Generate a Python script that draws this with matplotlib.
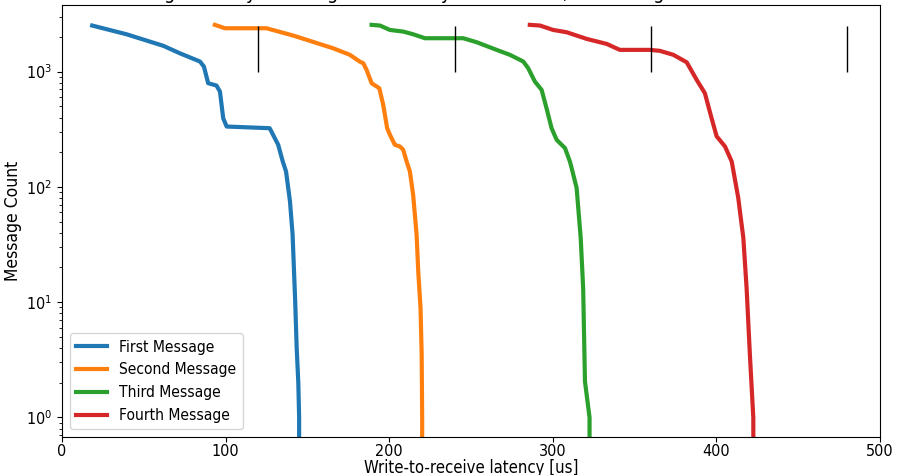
import numpy as np
import matplotlib
matplotlib.use('Agg')
import matplotlib.pyplot as plt

# --- данные: латентность [us] и число сообщений (с латентностью не меньше x) ---
first_x = [18.5, 39.5, 62, 72, 84.4, 86.8, 89.4, 94.5, 96.6, 98.6, 100.7, 127, 132.2,
           135, 137, 139.4, 141, 141.8, 142.6, 143.5, 144.5, 145, 145]
first_y = [2512, 2110, 1675, 1445, 1224, 1107, 794, 757, 672, 394, 334, 323, 232,
           166, 136, 75, 38.7, 19.7, 10.1, 4, 2, 1, 0]

second_x = [93.5, 99.6, 125, 141.4, 165.8, 176, 182, 184.2, 186.2, 189.3, 194, 196.4,
            198.8, 200.5, 203.5, 206.6, 208.6, 210.7, 212.7, 214.7, 216.8, 217.8,
            219.2, 219.9, 220.2, 220.2]
second_y = [2547, 2380, 2380, 2056, 1595, 1400, 1224, 1183, 1038, 794, 718, 515,
            323, 283, 232, 224, 210, 166, 136, 85, 38.4, 18.5, 8.9, 3.5, 1, 0]

third_x = [189.3, 194.4, 200.5, 208.6, 214.7, 221.9, 245.3, 253.5, 265.7, 273.8, 282,
           285, 289.1, 293.2, 296.2, 299.3, 302.4, 307.5, 310.5, 311.6, 314.6, 317.1,
           318.6, 319.7, 322.3, 322.5, 322.5]
third_y = [2547, 2512, 2300, 2227, 2110, 1950, 1950, 1800, 1545, 1400, 1224,
           1072, 820, 695, 482, 323, 256, 217, 166, 145, 98, 36,
           13.2, 2.05, 1.05, 1, 0]

fourth_x = [286, 292.2, 300.3, 308.5, 320.7, 333, 341, 359.4, 365.5, 373.7, 381.9,
            388, 393, 397.1, 400.2, 401.2, 405.3, 409.4, 413.4, 416.5, 418.5, 420.5,
            422.5, 422.6, 422.6]
fourth_y = [2547, 2512, 2300, 2197, 1925, 1740, 1545, 1545, 1515, 1400, 1205,
            848, 650, 394, 274, 264, 224, 166, 80, 36, 13.2, 3.5,
            1.05, 1, 0]

series = [
    (first_x, first_y, 'First Message'),
    (second_x, second_y, 'Second Message'),
    (third_x, third_y, 'Third Message'),
    (fourth_x, fourth_y, 'Fourth Message'),
]

marker_x = [120, 240, 360, 480]
marker_lo = 1000
marker_hi = 2512

# шрифт в оригинале выглядит сжатым по горизонтали
plt.rcParams['font.stretch'] = 'condensed'

fig = plt.figure(figsize=(8.97, 4.75), dpi=100)
ax = fig.add_axes([0.069, 0.08, 0.912, 0.909])

for xs, ys, name in series:
    ax.plot(xs, ys, linewidth=3, label=name)

ax.vlines(marker_x, marker_lo, marker_hi, colors='black', linewidth=1)

ax.set_yscale('log')
ax.set_xlim(0, 500)
ax.set_xticks([0, 100, 200, 300, 400, 500])
ax.tick_params(labelsize=11.5)
ax.tick_params(axis='x', pad=1.5)
ax.set_xlabel('Write-to-receive latency [us]', fontsize=12)
# подпись оси X ставим вручную, иначе не помещается снизу
ax.xaxis.set_label_coords(0.5, -0.05)
ax.set_ylabel('Message Count', fontsize=12.5, labelpad=3)
ax.set_title('Message latency in a long run of many small writes, in the original order of arrival',
             fontsize=14, pad=4.5)
ax.legend(loc='lower left', fontsize=11.2)

fig.savefig('out.png', dpi=100)
